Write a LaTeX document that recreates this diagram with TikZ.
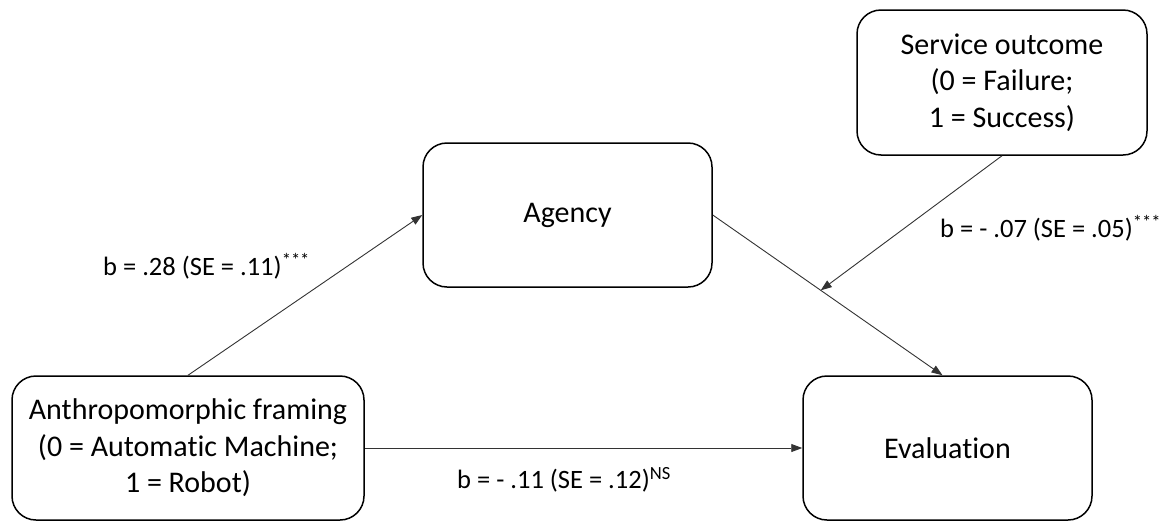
\documentclass[tikz,border=0pt]{standalone}
\usepackage{fontspec}
\setmainfont{Carlito}[Ligatures=NoCommon]
\usetikzlibrary{arrows.meta,calc}
\begin{document}
\begin{tikzpicture}[x=1pt,y=-1pt,
  box/.style={draw=black,line width=1.5pt,rounded corners=24pt,align=center,
    font=\fontsize{30}{36.5}\selectfont,inner sep=0pt},
  conn/.style={draw=black!80,line width=0.9pt,-{Triangle[length=11pt,width=8pt]}},
  lbl/.style={font=\fontsize{26.5}{30}\selectfont,inner sep=0pt}]
\useasboundingbox (0,0) rectangle (1165,520);
\node[box,minimum width=352pt,minimum height=144pt] (an) at (188,448)
  {Anthropomorphic framing\\(0 = Automatic Machine;\\1 = Robot)};
\node[box,minimum width=289pt,minimum height=144pt] (ag) at (567.5,215) {Agency};
\node[box,minimum width=289pt,minimum height=144pt] (ev) at (947.5,448) {Evaluation};
\node[box,minimum width=290pt,minimum height=145pt] (so) at (1002,82.5)
  {Service outcome\\(0 = Failure;\\1 = Success)};
\draw[conn] (an.north) -- (ag.west);
\draw[conn] (ag.east) -- ([xshift=-5pt]ev.north);
\coordinate (mid) at ($(ag.east)!0.47!([xshift=-5pt]ev.north)$);
\draw[conn] (so.south) -- (mid);
\draw[conn] (an.east) -- (ev.west);
\node[lbl,anchor=west] (l1) at (103,266) {b = .28 (SE = .11)\textsuperscript{***}};
\node[lbl,anchor=west] (l2) at (940,228) {b = - .07 (SE = .05)\textsuperscript{***}};
\node[lbl,anchor=west] (l3) at (457,480) {b = - .11 (SE = .12)\textsuperscript{NS}};
\end{tikzpicture}
\end{document}
